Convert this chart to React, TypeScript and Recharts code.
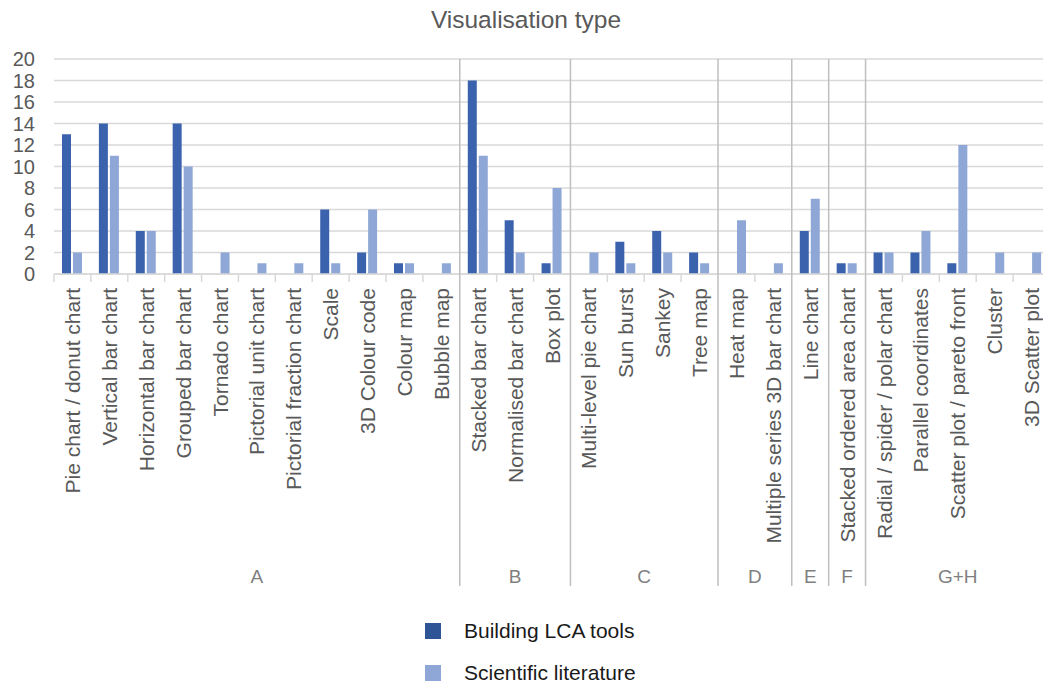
import React from 'react';
import { BarChart, Bar, XAxis, YAxis, CartesianGrid, Legend } from 'recharts';

const categories = [
  'Pie chart / donut chart', 'Vertical bar chart', 'Horizontal bar chart', 'Grouped bar chart',
  'Tornado chart', 'Pictorial unit chart', 'Pictorial fraction chart', 'Scale', '3D Colour code',
  'Colour map', 'Bubble map',
  'Stacked bar chart', 'Normalised bar chart', 'Box plot',
  'Multi-level pie chart', 'Sun burst', 'Sankey', 'Tree map',
  'Heat map', 'Multiple series 3D bar chart',
  'Line chart',
  'Stacked ordered area chart',
  'Radial / spider / polar chart', 'Parallel coordinates', 'Scatter plot / pareto front', 'Cluster', '3D Scatter plot',
];

const groupNames = ['A', 'B', 'C', 'D', 'E', 'F', 'G+H'];
const groupSizes = [11, 3, 4, 2, 1, 1, 5];

const buildingTools = [13, 14, 4, 14, 0, 0, 0, 6, 2, 1, 0, 18, 5, 1, 0, 3, 4, 2, 0, 0, 4, 1, 2, 2, 1, 0, 0];
const scientificLiterature = [2, 11, 4, 10, 2, 1, 1, 1, 6, 1, 1, 11, 2, 8, 2, 1, 2, 1, 5, 1, 7, 1, 2, 4, 12, 2, 2];

const yTicks = [0, 2, 4, 6, 8, 10, 12, 14, 16, 18, 20];

const DARK = '#3B63AD';
const LIGHT = '#8FA7D6';
const TEXT = '#595959';
const FONT = '"Liberation Sans", Arial, sans-serif';

const CHART_W = 1060;
const CHART_H = 685;
const LEFT = 54;
const RIGHT = 10;
const TOP = 59;
const BOTTOM_AXIS_H = 411;
const BAND = (CHART_W - LEFT - RIGHT) / categories.length;

// first index of each group
const groupStarts: number[] = [];
groupSizes.reduce((acc, n) => {
  groupStarts.push(acc);
  return acc + n;
}, 0);

const data = categories.map((name, i) => ({
  name,
  building: buildingTools[i],
  science: scientificLiterature[i],
}));

const CategoryTick = (props: any) => {
  const { x, y, payload } = props;
  const idx = payload.index;
  const left = x - BAND / 2;
  const g = groupStarts.indexOf(idx);
  return (
    <g>
      {g > 0 ? (
        <line x1={left} x2={left} y1={TOP} y2={586} stroke="#BFBFBF" strokeWidth={1.5} />
      ) : (
        <line x1={left} x2={left} y1={y} y2={y + 8} stroke="#D9D9D9" strokeWidth={1.5} />
      )}
      <text
        x={x}
        y={y + 14}
        transform={`rotate(-90, ${x}, ${y + 14})`}
        textAnchor="end"
        dy="0.36em"
        fontSize={21}
        fontFamily={FONT}
        fill={TEXT}
      >
        {payload.value}
      </text>
      {g >= 0 && (
        <text
          x={left + (groupSizes[g] * BAND) / 2}
          y={583}
          textAnchor="middle"
          fontSize={19}
          fontFamily={FONT}
          fill="#7F7F7F"
        >
          {groupNames[g]}
        </text>
      )}
    </g>
  );
};

const LegendBox = () => (
  <div style={{ fontFamily: FONT, fontSize: 21, color: '#1a1a1a' }}>
    {[
      { label: 'Building LCA tools', color: '#2F5597' },
      { label: 'Scientific literature', color: LIGHT },
    ].map((item) => (
      <div key={item.label} style={{ display: 'flex', alignItems: 'center', height: 42 }}>
        <span style={{ width: 16, height: 16, background: item.color, marginRight: 23, display: 'inline-block' }} />
        <span>{item.label}</span>
      </div>
    ))}
  </div>
);

export default function App() {
  return (
    <div style={{ position: 'absolute', top: 0, left: 0, width: 1043, height: 685, overflow: 'hidden', background: '#fff' }}>
      <div
        style={{
          position: 'absolute', top: 6, left: 0, width: CHART_W - 8, textAlign: 'center',
          fontFamily: FONT, fontSize: 24.5, color: TEXT,
        }}
      >
        Visualisation type
      </div>
      <BarChart
        width={CHART_W}
        height={CHART_H}
        data={data}
        margin={{ top: TOP, right: RIGHT, bottom: 0, left: 0 }}
        barSize={9}
        barGap={2}
      >
        <CartesianGrid vertical={false} stroke="#D9D9D9" strokeWidth={1.5} />
        <XAxis
          dataKey="name"
          interval={0}
          height={BOTTOM_AXIS_H}
          tick={<CategoryTick />}
          tickLine={false}
          tickSize={0}
          tickMargin={0}
          axisLine={{ stroke: '#D9D9D9', strokeWidth: 1.5 }}
        />
        <YAxis
          width={LEFT}
          domain={[0, 20]}
          ticks={yTicks}
          interval={0}
          axisLine={false}
          tickLine={false}
          tickSize={0}
          tickMargin={19}
          tick={{ fontSize: 20, fill: TEXT, fontFamily: FONT }}
        />
        <Legend
          layout="vertical"
          align="center"
          verticalAlign="middle"
          content={<LegendBox />}
          wrapperStyle={{ top: 610, left: 425, width: 300, height: 84 }}
        />
        <Bar dataKey="building" name="Building LCA tools" fill={DARK} isAnimationActive={false} />
        <Bar dataKey="science" name="Scientific literature" fill={LIGHT} isAnimationActive={false} />
      </BarChart>
    </div>
  );
}
